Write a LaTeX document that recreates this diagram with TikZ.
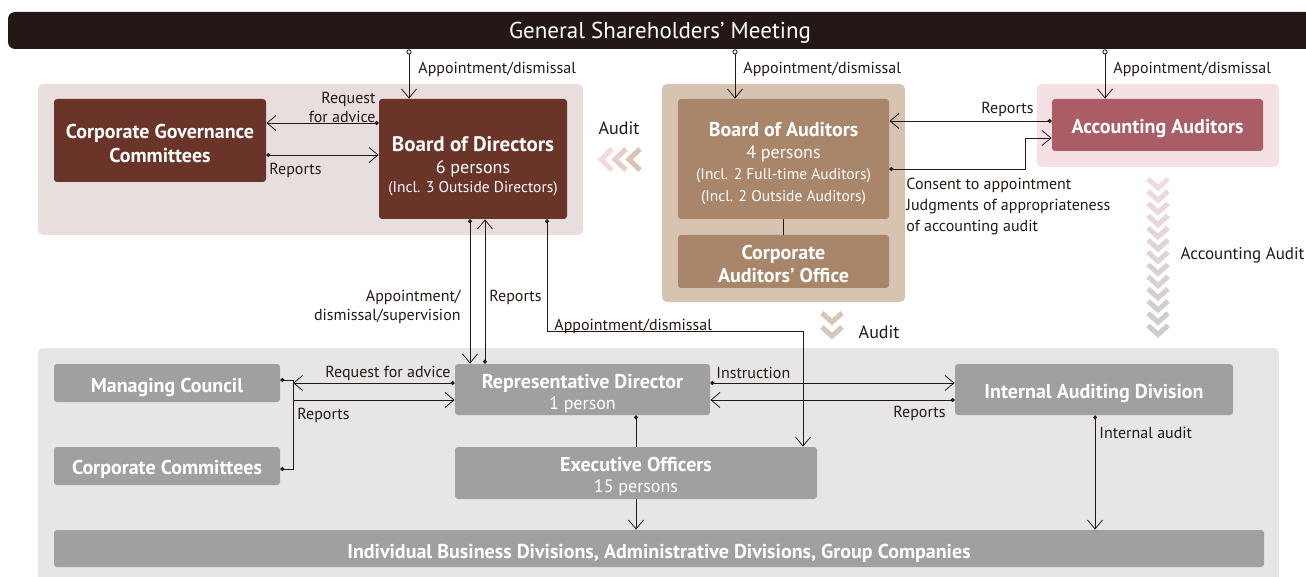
\documentclass[tikz,border=0pt]{standalone}
\usepackage{fontspec}
\setmainfont{PT Sans}
\usetikzlibrary{arrows.meta}
\definecolor{barC}{RGB}{35,24,21}
\definecolor{lineC}{RGB}{35,24,21}
\definecolor{pinkBg}{RGB}{233,222,222}
\definecolor{brownC}{RGB}{107,52,40}
\definecolor{tanBg}{RGB}{214,195,176}
\definecolor{tanC}{RGB}{169,134,106}
\definecolor{accBg}{RGB}{245,224,227}
\definecolor{accC}{RGB}{170,93,102}
\definecolor{grayBg}{RGB}{230,230,230}
\definecolor{grayC}{RGB}{160,160,160}
\definecolor{chevPink}{RGB}{240,218,222}
\definecolor{chevGray}{RGB}{204,204,204}
\definecolor{chevTan}{RGB}{217,196,178}
\newcommand\lblfont{\fontsize{16}{19}\selectfont}
\newcommand\boxfont{\fontsize{20}{23}\selectfont\bfseries}
\newcommand\subfont{\fontsize{15.5}{19}\selectfont\mdseries}
\newcommand\midfont{\fontsize{18}{21}\selectfont\mdseries}
\begin{document}
\begin{tikzpicture}[x=1pt,y=-1pt,line width=0.8pt,
  >={Straight Barb[length=9pt,width=15pt]},
  box/.style={rounded corners=3pt,inner sep=0pt},
  boxtext/.style={text=white,align=center,inner sep=0pt,font=\boxfont},
  lbl/.style={text=lineC,font=\lblfont,inner sep=0pt},
  dotarr/.style={draw=lineC,{Circle[length=4pt]}->},
  plainarr/.style={draw=lineC,->},
  opendot/.style={draw=lineC,{Circle[open,length=5pt,fill=white]}->},
  chev/.style={line width=5pt,line join=miter}]
\useasboundingbox (0,0) rectangle (1306,577);
% background regions
\fill[pinkBg,rounded corners=5pt] (38,84) rectangle (583,235);
\fill[tanBg,rounded corners=5pt] (662,84) rectangle (905,302);
\fill[accBg,rounded corners=5pt] (1037,84) rectangle (1279,167);
\fill[grayBg,rounded corners=5pt] (38,348) rectangle (1279,590);
% shareholders
\node[box,fill=barC,rounded corners=7pt,minimum width=1310pt,minimum height=37pt] (gsm) at (663,30.5) {};
\node[boxtext,font=\fontsize{23}{26}\selectfont] (gsmT) at (660,33) {General Shareholders’ Meeting};
% upper boxes
\node[box,fill=brownC,minimum width=212pt,minimum height=83pt] (cgc) at (160,140.5) {};
\node[boxtext] (cgcT) at (160,143.5) {Corporate Governance\\[1pt]Committees};
\node[box,fill=brownC,minimum width=188pt,minimum height=120pt] (bod) at (473,159) {};
\node[boxtext] (bodT) at (473,166)
  {\fontsize{21}{24}\selectfont Board of Directors\\[-1pt]{\midfont 6 persons}\\[-4pt]{\subfont (Incl. 3 Outside Directors)}};
\node[box,fill=tanC,minimum width=211pt,minimum height=120pt] (boa) at (783.5,159) {};
\node[boxtext] (boaT) at (783.5,164)
  {Board of Auditors\\[-1pt]{\midfont 4 persons}\\[-2pt]{\subfont (Incl. 2 Full-time Auditors)}\\[-1pt]{\subfont (Incl. 2 Outside Auditors)}};
\node[box,fill=tanC,minimum width=211pt,minimum height=53pt] (cao) at (783.5,261.5) {};
\node[boxtext] (caoT) at (783.5,264) {Corporate\\Auditors’ Office};
\node[box,fill=accC,minimum width=211pt,minimum height=52pt] (acc) at (1157.5,125) {};
\node[boxtext] (accT) at (1157.5,129) {Accounting Auditors};
% lower boxes
\node[box,fill=grayC,minimum width=226pt,minimum height=38pt] (mc) at (167,383) {};
\node[boxtext] (mcT) at (167,387) {Managing Council};
\node[box,fill=grayC,minimum width=226pt,minimum height=38pt] (cc) at (167,466) {};
\node[boxtext] (ccT) at (167,469) {Corporate Committees};
\node[box,fill=grayC,minimum width=255pt,minimum height=51pt] (rd) at (582.5,389.5) {};
\node[boxtext] (rdT) at (582.5,393.5) {Representative Director\\[-2pt]{\midfont 1 person}};
\node[box,fill=grayC,minimum width=362pt,minimum height=52pt] (eo) at (636,473) {};
\node[boxtext] (eoT) at (636,477) {Executive Officers\\[-2pt]{\midfont 15 persons}};
\node[box,fill=grayC,minimum width=278pt,minimum height=51pt] (iad) at (1094,389.5) {};
\node[boxtext] (iadT) at (1094,393.5) {Internal Auditing Division};
\node[box,fill=grayC,minimum width=1210pt,minimum height=37pt] (ind) at (659,548.5) {};
\node[boxtext] (indT) at (659,553)
  {Individual Business Divisions, Administrative Divisions, Group Companies};
% connectors
\draw[opendot] (gsm.south -| 409,0) -- (bod.north -| 409,0);
\draw[opendot] (gsm.south -| 735,0) -- (boa.north -| 735,0);
\draw[opendot] (gsm.south -| 1105,0) -- (acc.north -| 1105,0);
\node[lbl,anchor=west] (lGsm1) at (418,69) {Appointment/dismissal};
\node[lbl,anchor=west] (lGsm2) at (743,69) {Appointment/dismissal};
\node[lbl,anchor=west] (lGsm3) at (1113,69) {Appointment/dismissal};
\draw[dotarr] (bod.west |- 0,123) -- (cgc.east |- 0,123);
\draw[dotarr] (cgc.east |- 0,155) -- (bod.west |- 0,155);
\node[lbl,anchor=east,align=right] (lReq1) at (376,107) {Request\\for advice};
\node[lbl,anchor=west] (lRep1) at (269,170) {Reports};
\draw[dotarr] (acc.west |- 0,121) -- (boa.east |- 0,121);
\draw[dotarr] (boa.east |- 0,169) -- (1025,169) -- (1025,138) -- (acc.west |- 0,138);
\node[lbl,anchor=east] (lRep2) at (1034,109) {Reports};
\node[lbl,anchor=north west,align=left,font=\fontsize{16}{21}\selectfont] (lCons) at (906,178)
  {Consent to appointment\\Judgments of appropriateness\\of accounting audit};
\draw[draw=lineC] (boa) -- (cao);
\draw[dotarr] (bod.south -| 470,0) -- (rd.north -| 470,0);
\draw[dotarr] (rd.north -| 485,0) -- (bod.south -| 485,0);
\node[lbl,anchor=east,align=right] (lSup) at (461,307) {Appointment/\\dismissal/supervision};
\node[lbl,anchor=west] (lRep3) at (489,297) {Reports};
\draw[dotarr] (bod.south -| 547,0) |- (803,331) -- (eo.north -| 803,0);
\node[lbl,anchor=west] (lApp) at (554,326) {Appointment/dismissal};
\draw[draw=lineC,{Circle[length=4pt]}-{Circle[length=4pt]}] (mc.east |- 0,380) -- (293,380) -- (293,469) -- (cc.east |- 0,469);
\draw[dotarr] (rd.west |- 0,383) -- (293,383);
\draw[plainarr] (293,400) -- (rd.west |- 0,400);
\node[lbl,anchor=east] (lReq2) at (451,373) {Request for advice};
\node[lbl,anchor=west] (lRep4) at (297,415) {Reports};
\draw[draw=lineC,{Circle[length=4pt]}-] (rd.south -| 636,0) -- (eo.north -| 636,0);
\draw[plainarr] (eo.south -| 636,0) -- (ind.north -| 636,0);
\draw[dotarr] (rd.east |- 0,383) -- (iad.west |- 0,383);
\draw[dotarr] (iad.west |- 0,400) -- (rd.east |- 0,400);
\node[lbl,anchor=west] (lIns) at (716,373) {Instruction};
\node[lbl,anchor=east] (lRep5) at (946,413) {Reports};
\draw[dotarr] (iad.south -| 1095,0) -- (ind.north -| 1095,0);
\node[lbl,anchor=west] (lInt) at (1099,433) {Internal audit};
% audit chevrons
\draw[chev,chevPink] (612,149) -- (601,159.5) -- (612,170);
\draw[chev,chevPink!50!chevTan] (626,149) -- (615,159.5) -- (626,170);
\draw[chev,chevTan] (640,149) -- (629,159.5) -- (640,170);
\node[font=\fontsize{18}{21}\selectfont,text=lineC] (lAud1) at (619,128) {Audit};
\draw[chev,chevTan] (822,313) -- (832,322) -- (842,313);
\draw[chev,chevTan!60!chevGray] (822,327) -- (832,336) -- (842,327);
\node[font=\fontsize{18}{21}\selectfont,text=lineC,anchor=west] (lAud2) at (855,332) {Audit};
\foreach \i in {0,...,12}{
  \pgfmathtruncatemacro\p{100-\i*100/12}
  \draw[chev,draw=chevPink!\p!chevGray] (1148,179+\i*12.2) -- (1158,188+\i*12.2) -- (1168,179+\i*12.2);
}
\node[font=\fontsize{17}{20}\selectfont,text=lineC,anchor=west] (lAcc) at (1177,255) {Accounting Audit};
\end{tikzpicture}
\end{document}
